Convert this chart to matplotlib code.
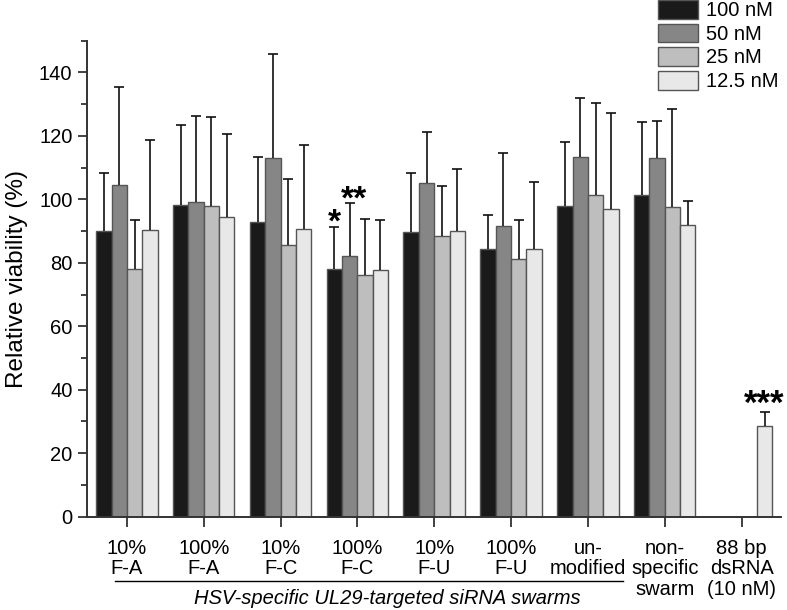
import matplotlib
matplotlib.use("Agg")
import matplotlib.pyplot as plt
import numpy as np
from matplotlib.ticker import MultipleLocator

plt.rcParams['font.family'] = ['Liberation Sans', 'DejaVu Sans']

categories = ["10%\nF-A", "100%\nF-A", "10%\nF-C", "100%\nF-C", "10%\nF-U",
              "100%\nF-U", "un-\nmodified", "non-\nspecific\nswarm", "88 bp\ndsRNA\n(10 nM)"]
series = ["100 nM", "50 nM", "25 nM", "12.5 nM"]
v100 = [89.9, 98.2, 93.0, 78.2, 89.7, 84.2, 98.0, 101.3, np.nan]
v50 = [104.6, 99.2, 113.0, 82.1, 105.1, 91.6, 113.5, 113.0, np.nan]
v25 = [78.1, 97.9, 85.6, 76.1, 88.4, 81.3, 101.4, 97.5, np.nan]
v12 = [90.3, 94.4, 90.5, 77.7, 90.1, 84.2, 97.1, 91.9, 28.6]
c100 = [108.4, 123.5, 113.3, 91.4, 108.3, 95.0, 118.0, 124.3, np.nan]
c50 = [135.3, 126.3, 145.7, 98.7, 121.2, 114.7, 132.0, 124.6, np.nan]
c25 = [93.4, 125.9, 106.3, 93.8, 104.2, 93.5, 130.4, 128.5, np.nan]
c12 = [118.6, 120.7, 117.0, 93.6, 109.5, 105.4, 127.2, 99.6, 33.1]
colors = ["#1a1a1a", "#868686", "#bebebe", "#e8e8e8"]
bracket_label = "HSV-specific UL29-targeted siRNA swarms"

fig = plt.figure(figsize=(7.87, 6.10), dpi=100)
ax = fig.add_axes([0.1105, 0.153, 0.8815, 0.7803])

x = np.arange(len(categories))
w = 0.2
vals = [v100, v50, v25, v12]
caps = [c100, c50, c25, c12]
for i, (v, c, col, lab) in enumerate(zip(vals, caps, colors, series)):
    v = np.array(v, dtype=float)
    c = np.array(c, dtype=float)
    pos = x + (i - 1.5) * w
    ax.bar(pos, v, width=w, color=col, edgecolor="#555555", linewidth=1.0,
           label=lab, zorder=2)
    err = c - v
    eb = ax.errorbar(pos, v, yerr=[np.zeros_like(err), err], fmt='none',
                     ecolor='#111111', elinewidth=1.2, capsize=3.6, capthick=1.2, zorder=3)
    eb[1][0].set_visible(False)

ax.set_xlim(-0.52, 8.51)
ax.set_ylim(0, 150)
ax.spines['top'].set_visible(False)
ax.spines['right'].set_visible(False)
for s in ['left', 'bottom']:
    ax.spines[s].set_linewidth(1.4)
    ax.spines[s].set_color('#333333')

ax.yaxis.set_major_locator(MultipleLocator(20))
ax.yaxis.set_minor_locator(MultipleLocator(10))
ax.tick_params(axis='y', which='major', length=6.5, width=1.3, color='#333333',
               labelsize=14.5, pad=4)
ax.tick_params(axis='y', which='minor', length=4, width=1.3, color='#333333')
ax.set_xticks(x)
ax.set_xticklabels(categories, fontsize=14.5, linespacing=1.1, va='top')
ax.tick_params(axis='x', which='major', length=7, width=1.3, color='#333333', pad=9)
ax.set_ylabel("Relative viability (%)", fontsize=17.5, labelpad=7.5)

# significance markers
ax.text(x[3] - 0.215, c100[3] - 1.6, "*", ha='right', va='baseline', fontsize=24, fontweight='bold')
ax.text(x[3] - 0.212, c50[3] - 1.7, "**", ha='left', va='baseline', fontsize=24, fontweight='bold')
ax.text(x[8] + 1.5 * w, c12[8] - 0.7, "***", ha='center', va='baseline', fontsize=25, fontweight='bold')

# bracket under the first six groups
fig.add_artist(plt.Line2D([115 / 787, 623 / 787], [1 - 580.7 / 610] * 2,
                          color='black', linewidth=1.0))
fig.text(387 / 787, 1 - 598 / 610, bracket_label, ha='center', va='center',
         fontsize=14.5, style='italic')

leg = ax.legend(loc='upper left', bbox_to_anchor=(658 / 787, 1.0),
                bbox_transform=fig.transFigure, frameon=False, fontsize=14.5,
                handlelength=2.0, handleheight=1.05, labelspacing=0.17,
                handletextpad=0.4, borderpad=0, borderaxespad=0)

fig.savefig("out.png", dpi=100)
